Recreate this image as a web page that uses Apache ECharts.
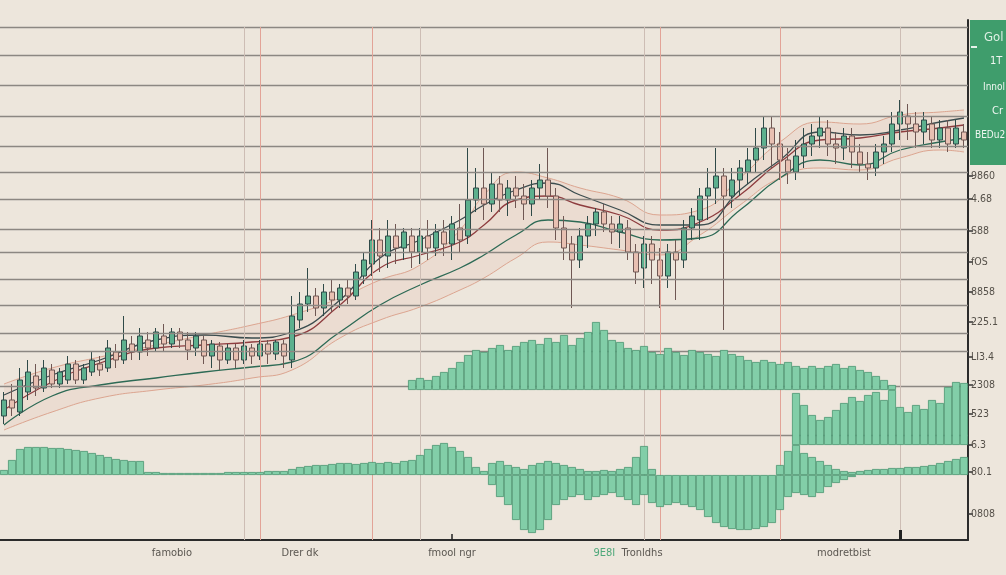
<!DOCTYPE html>
<html><head><meta charset="utf-8">
<script src="https://cdn.jsdelivr.net/npm/echarts@6/dist/echarts.min.js"></script>
<style>html,body{margin:0;padding:0;background:#ede6dc;}#c{width:1006px;height:575px;}</style>
</head><body><div id="c"></div>
<script>
// ---------- data ----------
const categories = Array.from({length: 121}, (_, i) => 'P' + (i + 1));

// [open, close, low, high]
const candles = [
[62,70,58,74],[70,66,62,78],[64,80,62,86],[74,84,70,90],[82,76,72,88],
[76,86,74,90],[85,78,76,88],[78,84,76,86],[80,88,78,92],[88,80,78,90],
[80,86,78,88],[84,90,82,94],[88,85,82,92],[86,96,84,100],[94,90,86,98],
[90,100,88,112],[98,94,90,102],[94,102,90,106],[100,96,92,104],[96,104,94,106],
[102,98,94,108],[98,104,96,106],[104,100,96,106],[100,95,90,104],[96,102,92,104],
[100,92,88,102],[92,98,86,100],[97,90,85,99],[90,96,88,98],[96,90,86,98],
[90,97,88,100],[96,92,88,98],[92,98,90,100],[98,93,88,100],[93,99,90,100],
[98,92,86,100],[90,112,86,122],[110,118,106,124],[118,122,114,136],[122,116,112,126],
[116,124,112,128],[124,120,114,130],[120,126,116,128],[126,122,118,130],[122,134,120,138],
[132,140,128,144],[138,150,132,160],[150,142,134,156],[142,152,136,160],[152,146,138,158],
[146,154,140,156],[152,144,136,156],[144,152,138,156],[152,146,140,160],[146,154,142,158],
[154,148,142,160],[148,158,140,162],[156,150,144,168],[152,170,148,196],[170,176,164,186],
[176,168,160,196],[168,178,164,184],[178,170,164,182],[170,176,162,180],[176,172,166,182],
[172,168,160,178],[168,176,162,180],[176,180,170,188],[180,172,166,196],[172,156,150,176],
[156,146,140,162],[148,140,116,152],[140,152,136,156],[152,158,146,162],[158,164,152,166],
[164,158,154,168],[158,154,148,162],[154,158,146,162],[156,144,140,160],[144,134,128,148],
[136,148,126,152],[148,140,128,152],[140,132,116,146],[132,144,126,148],[144,140,120,150],
[140,156,136,160],[156,162,150,166],[160,172,150,176],[172,176,160,186],[176,182,168,196],
[182,172,105,186],[172,180,166,186],[180,186,172,190],[184,190,178,196],[190,196,184,206],
[196,206,190,212],[206,198,186,212],[198,190,180,204],[190,184,178,196],[184,192,180,200],
[192,198,186,206],[198,202,192,208],[202,206,196,212],[206,198,192,210],[198,196,188,204],
[196,202,190,206],[202,194,186,206],[194,188,184,198],[188,186,180,194],[186,194,182,198],
[194,198,188,202],[198,208,194,214],[208,214,200,220],[212,208,200,218],[208,204,196,214],
[204,210,198,214],[208,200,196,212],[200,206,196,210],[206,198,194,210],[198,206,196,210],
[204,200,196,208]
];

// sample points (category index) for the averages and the band
const curveIdx  = [0,6,12,19,25,31,36,42,47,52,57,60,64,68,72,77,82,87,92,97,102,107,112,117,120];
const maSlow    = [72.5,82.5,90,100,102.5,101,104,120,141,150,160,167.5,175,178.5,172.5,165,157.5,157.5,175,190,204,202.5,205,209,211];
const maMid     = [65,79,88.5,96,97.5,99,101.5,117.5,136,142.5,149,157.5,170,172,167.5,162.5,155,159,172.5,189,200,201,204,206,207.5];
const maFast    = [57.5,72,77.5,81,84,86.5,89,104,117.5,127.5,136,142.5,152.5,160,159,154,150,151,165,181,190,187.5,195,199,201];
const bandUpper = [78,86,91.5,97.5,102.5,107.5,112.5,121,130,137.5,155,172.5,184,181,176,171,162.5,165,181,199,209,208,212.5,214,215];
const bandLower = [55,64,71,75,77.5,81,85,101,110,116.5,125,131,141,149,147.5,145,142.5,152.5,167.5,181,186,185,191,195,194];

// upper volume block (starts at index 51)
const volumeAFrom = 51;
const volumeA = [10,12,10,14,18,22,28,35,40,38,42,45,40,44,48,50,46,52,48,55,45,52,58,68,60,50,48,42,40,44,38,36,42,38,35,40,38,36,34,40,36,34,30,28,30,28,26,28,24,22,24,22,24,26,22,24,20,18,14,10,5];
// right volume block (starts at index 99)
const volumeBFrom = 99;
const volumeB = [52,40,30,25,28,35,42,48,44,50,53,45,55,38,33,40,36,45,42,58,63,62];

// oscillator
const oscUp = [5,15,26,28,28,28,27,27,26,25,24,22,20,18,16,15,14,14,
3,3,2,2,2,2,2,2,2,2,3,3,3,3,3,4,4,4,
6,8,9,10,10,11,12,12,11,12,13,12,13,12,14,15,20,26,30,32,28,24,18,8,4,
12,14,10,8,6,10,12,14,12,10,8,6,4,4,5,4,6,8,18,29,6,
null,null,null,null,null,null,null,null,null,null,null,null,null,null,null,
10,24,30,22,18,14,10,6,4,3,
4,5,6,6,7,7,8,8,9,10,12,14,16,18];
const oscDownFrom = 61;
const oscDown = [-10,-22,-30,-45,-55,-58,-55,-45,-30,-25,-22,-20,-25,-22,-20,-18,-22,-25,-30,-20,-28,-32,-30,-28,-30,-32,-35,-42,-48,-52,-54,-55,-55,-54,-52,-48,-35,-22,-18,-20,-22,-18,-12,-8,-5,-2];

// horizontal rule levels (price units) and vertical marker positions (category index)
const ruleLevels = [256.5,242.5,227.5,212,197,184,170.5,155.5,144,130.5,117.5,103.5,94.5,77,52.5];
const redMarkers = [32,46,82,97];
const faintMarkers = [30,52,80,112];

// right axis tick values and texts
const rightTickValues = [182,170.5,154.5,139,124,109,91.5,77.5,63,47.5,34,13];
const rightTickTexts  = ['9860','4.68','S88','fOS','8858','225.1','LI3.4','2308','523','6.3','80.1','0808'];

// bottom axis labels
const bottomLabelIdx  = [21,37,56,78,105];
const bottomLabelText = ['famobio','Drer dk','fmool ngr','{g|9E8I}  Tronldhs','modretbist'];

// legend box texts
const legendTexts = ['Gol','1T','Innol','Cr','BEDu2nu'];

// ---------- chart ----------
const chart = echarts.init(document.getElementById('c'), null, {renderer: 'canvas'});
const pad = (from, arr) => categories.map((c, i) => (i >= from && i - from < arr.length) ? arr[i - from] : null);
const pairs = arr => curveIdx.map((x, k) => [x, arr[k]]);
const FONT = '"Liberation Sans Narrow","DejaVu Sans Condensed","Roboto",sans-serif';

const markLines = [];
ruleLevels.forEach(v => markLines.push({yAxis: v, lineStyle: {color: '#8c8782', width: 1.4, type: 'solid'}}));
redMarkers.forEach(i => markLines.push([{xAxis: i, yAxis: 256.5, lineStyle: {color: '#e2a397', width: 1, type: 'solid'}}, {xAxis: i, yAxis: 0}]));
faintMarkers.forEach(i => markLines.push([{xAxis: i, yAxis: 256.5, lineStyle: {color: '#cdbdb4', width: 1, type: 'solid'}}, {xAxis: i, yAxis: 0}]));
markLines.push([{xAxis: 112, yAxis: 0, lineStyle: {color: '#222', width: 3, type: 'solid'}}, {xAxis: 112, yAxis: 5}]);
markLines.push([{xAxis: 56, yAxis: 0, lineStyle: {color: '#222', width: 1.5, type: 'solid'}}, {xAxis: 56, yAxis: 3}]);

const hiddenX = gi => ({type: 'category', gridIndex: gi, data: categories, boundaryGap: true, show: false});
const hiddenY = (gi, mn, mx) => ({type: 'value', gridIndex: gi, min: mn, max: mx, show: false, splitLine: {show: false}});

const volStyle = {color: '#82cea8', borderColor: '#4a9571', borderWidth: 0.8};

const option = {
  backgroundColor: '#ede6dc',
  animation: false,
  grid: [
    {left: 0, right: 38, top: 20, bottom: 35},
    {left: 0, right: 38, top: 310, height: 80},
    {left: 0, right: 38, top: 375, height: 70},
    {left: 0, right: 38, top: 440, height: 100}
  ],
  xAxis: [
    {type: 'category', gridIndex: 0, data: categories, boundaryGap: true,
     axisLine: {show: true, lineStyle: {color: '#2b2b2b', width: 2}},
     axisTick: {show: false}, splitLine: {show: false},
     axisLabel: {
       show: true, margin: 8, fontSize: 11, color: '#5a5650', fontFamily: FONT,
       interval: (idx) => bottomLabelIdx.indexOf(idx) >= 0,
       formatter: (val, idx) => { const k = bottomLabelIdx.indexOf(idx); return k >= 0 ? bottomLabelText[k] : ''; },
       rich: {g: {color: '#4fa87a', fontSize: 11, fontFamily: FONT}}
     }},
    hiddenX(1), hiddenX(2), hiddenX(3)
  ],
  yAxis: [
    {type: 'value', gridIndex: 0, position: 'right', min: 0, max: 260,
     splitLine: {show: false},
     axisLine: {show: true, lineStyle: {color: '#2b2b2b', width: 2}},
     axisTick: {show: true, customValues: rightTickValues, length: 5, lineStyle: {color: '#333', width: 1.5}},
     axisLabel: {show: true, customValues: rightTickValues, margin: 3, fontSize: 10.5, fontFamily: FONT,
       color: (v) => rightTickValues.indexOf(v) === 0 ? '#3f9e6c' : '#555049',
       formatter: (v) => { const k = rightTickValues.indexOf(v); return k >= 0 ? rightTickTexts[k] : ''; }}},
    hiddenY(1, 0, 80), hiddenY(2, 0, 70), hiddenY(3, -65, 35)
  ],
  series: [
    {name: 'rules', type: 'line', xAxisIndex: 0, yAxisIndex: 0, data: categories.map(() => null), z: 1, silent: true,
     markLine: {silent: true, symbol: 'none', label: {show: false}, data: markLines}},
    {name: 'bandLow', type: 'line', xAxisIndex: 0, yAxisIndex: 0, stack: 'band', smooth: true, symbol: 'none', z: 2,
     lineStyle: {color: '#dca590', width: 1}, data: pairs(bandLower)},
    {name: 'bandHigh', type: 'line', xAxisIndex: 0, yAxisIndex: 0, stack: 'band', smooth: true, symbol: 'none', z: 2,
     lineStyle: {color: '#dca590', width: 1}, areaStyle: {color: 'rgba(232,172,148,0.22)'},
     data: curveIdx.map((x, k) => [x, bandUpper[k] - bandLower[k]])},
    {name: 'maFast', type: 'line', xAxisIndex: 0, yAxisIndex: 0, smooth: true, symbol: 'none', z: 3,
     lineStyle: {color: '#2d6a55', width: 1.3}, data: pairs(maFast)},
    {name: 'maMid', type: 'line', xAxisIndex: 0, yAxisIndex: 0, smooth: true, symbol: 'none', z: 3,
     lineStyle: {color: '#8e3d3f', width: 1.3}, data: pairs(maMid)},
    {name: 'maSlow', type: 'line', xAxisIndex: 0, yAxisIndex: 0, smooth: true, symbol: 'none', z: 3,
     lineStyle: {color: '#3c4d4f', width: 1.3}, data: pairs(maSlow)},
    {name: 'price', type: 'candlestick', xAxisIndex: 0, yAxisIndex: 0, z: 4, barWidth: 5,
     itemStyle: {color: '#5db08e', color0: '#e8c0b2', borderColor: '#2f4a48', borderColor0: '#6f5753', borderWidth: 1},
     data: candles},
    {name: 'volA', type: 'bar', xAxisIndex: 1, yAxisIndex: 1, barCategoryGap: '0%', itemStyle: volStyle, z: 5,
     data: pad(volumeAFrom, volumeA)},
    {name: 'volB', type: 'bar', xAxisIndex: 2, yAxisIndex: 2, barCategoryGap: '0%', itemStyle: volStyle, z: 5,
     data: pad(volumeBFrom, volumeB)},
    {name: 'oscUp', type: 'bar', xAxisIndex: 3, yAxisIndex: 3, stack: 'osc', barCategoryGap: '0%', itemStyle: volStyle, z: 5,
     data: oscUp},
    {name: 'oscDown', type: 'bar', xAxisIndex: 3, yAxisIndex: 3, stack: 'osc', barCategoryGap: '0%', itemStyle: volStyle, z: 5,
     data: pad(oscDownFrom, oscDown)}
  ],
  graphic: [
    {type: 'rect', left: 970, top: 20, z: 10, shape: {width: 40, height: 145}, style: {fill: '#3f9d6c'}},
    {type: 'rect', left: 971, top: 46, z: 11, shape: {width: 6, height: 2}, style: {fill: '#e6f2ea'}},
    {type: 'text', left: 984, top: 31, z: 11, style: {text: legendTexts[0], fill: '#dcefe3', font: '13px ' + FONT}},
    {type: 'text', left: 990, top: 56, z: 11, style: {text: legendTexts[1], fill: '#f0f7f2', font: '11px ' + FONT}},
    {type: 'text', left: 983, top: 82, z: 11, style: {text: legendTexts[2], fill: '#f0f7f2', font: '10px ' + FONT}},
    {type: 'text', left: 992, top: 106, z: 11, style: {text: legendTexts[3], fill: '#f0f7f2', font: '11px ' + FONT}},
    {type: 'text', left: 975, top: 130, z: 11, style: {text: legendTexts[4], fill: '#f0f7f2', font: '10px ' + FONT}}
  ]
};
chart.setOption(option);
</script>
</body></html>
